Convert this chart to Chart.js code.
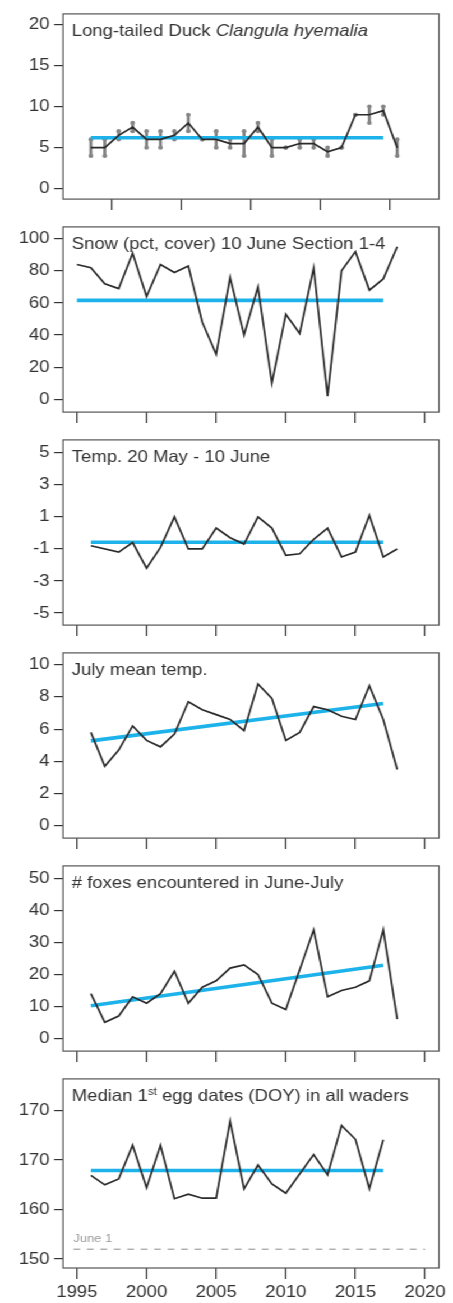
<!DOCTYPE html>
<html>
<head>
<meta charset="utf-8">
<script src="https://cdn.jsdelivr.net/npm/chart.js@4"></script>
<style>
  html, body { margin: 0; padding: 0; background: #fff; }
  #fig { position: absolute; left: 0; top: 0; width: 404px; height: 1303px;
         transform: scaleX(1.1213); transform-origin: 0 0; }
  .panel { position: absolute; left: 0; width: 404px; }
</style>
</head>
<body>
<div id="fig"></div>
<script>
// ---- data ----
const years = [1996, 1997, 1998, 1999, 2000, 2001, 2002, 2003, 2004, 2005, 2006, 2007,
               2008, 2009, 2010, 2011, 2012, 2013, 2014, 2015, 2016, 2017, 2018];
const snowYears = [1995, 1996, 1997, 1998, 1999, 2000, 2001, 2002, 2003, 2004, 2005, 2006,
                   2007, 2008, 2009, 2010, 2011, 2012, 2013, 2014, 2015, 2016, 2017, 2018];

const duckMedian = [5, 5, 6.5, 7.5, 6, 6, 6.5, 8, 6, 6, 5.5, 5.5, 7.5, 5, 5, 5.5, 5.5, 4.5, 5, 9, 9, 9.5, 5];
const duckLow    = [4, 4, 6, 7, 5, 5, 6, 7, 6, 5, 5, 4, 7, 4, 5, 5, 5, 4, 5, 9, 8, 9, 4];
const duckHigh   = [6, 6, 7, 8, 7, 7, 7, 9, 6, 7, 6, 7, 8, 6, 5, 6, 6, 5, 5, 9, 10, 10, 6];

const snowCover = [84, 82, 72, 69, 91, 64, 84, 79, 83, 48, 28, 76, 40, 70, 10, 53, 41, 82, 2, 80, 92, 68, 75, 95];

const tempMayJune = [-0.8, null, -1.2, -0.6, -2.2, -0.9, 1.0, -1.0, -1.0, 0.3, -0.3, -0.7,
                     1.0, 0.3, -1.4, -1.3, -0.4, 0.3, -1.5, -1.2, 1.1, -1.5, -1.0];

const julyTemp = [5.8, 3.7, 4.7, 6.2, 5.3, 4.9, 5.7, 7.7, 7.2, 6.9, 6.6, 5.9,
                  8.8, 7.9, 5.3, 5.8, 7.4, 7.2, 6.8, 6.6, 8.7, 6.6, 3.5];

const foxes = [14, 5, 7, 13, 11, 14, 21, 11, 16, 18, 22, 23, 20, 11, 9, null, 34, 13, 15, 16, 18, 34, 6];

const eggDate = [166.9, 165.0, 166.2, 173.0, 164.4, 173.0, 162.2, 163.1, 162.3, 162.3, 177.9, 164.2,
                 169.0, 165.2, 163.3, null, 171.1, 167.0, 177.0, 174.2, 164.2, 174.1, null];

// fitted means / trends (start and end year)
const fitYears = [1996, 2017];
const snowFitYears = [1995, 2017];
const duckMean = [6.2, 6.2];
const snowMean = [61.6, 61.6];
const tempMean = [-0.58, -0.58];
const julyTrend = [5.27, 7.59];
const foxTrend = [10.2, 22.9];
const eggMean = [167.9, 167.9];

// reference line: 1 June = day of year 152
const juneFirstYears = [1994.75, 2020];
const juneFirstDOY = [152, 152];

// ticks
const yearTicks = [1995, 2000, 2005, 2010, 2015, 2020];
const duckTicks = [0, 5, 10, 15, 20];
const snowTicks = [0, 20, 40, 60, 80, 100];
const tempTicks = [-5, -3, -1, 1, 3, 5];
const julyTicks = [0, 2, 4, 6, 8, 10];
const foxTicks = [0, 10, 20, 30, 40, 50];
const eggTicks = [150, 160, 170, 180];
const eggTickLabels = ['150', '160', '170', '170'];

// ---- styling ----
const FONT = '"Liberation Sans", Arial, Helvetica, sans-serif';
const FS = 16.5;
const TEXT = '#333333';
const BLUE = '#1db3ea';
const LINE = '#2a2a2a';
const W = 404;
const AXIS_W = 56.2;
const PAD_R = 12.5;
const PANEL_STEP = 213;
const FRAME_H = 193;

const pts = (xs, ys) => xs.map((x, i) => ({ x: x, y: ys[i] }));

const frameAndTitle = {
  id: 'frameAndTitle',
  afterDatasetsDraw(chart, args, opts) {
    const ctx = chart.ctx, a = chart.chartArea;
    ctx.save();
    ctx.strokeStyle = '#555555';
    ctx.lineWidth = 1.2;
    ctx.strokeRect(a.left, a.top, a.right - a.left, a.bottom - a.top);
    let x = a.left + 7.8;
    const y = a.top + 22.3;
    ctx.fillStyle = TEXT;
    ctx.textBaseline = 'alphabetic';
    ctx.textAlign = 'left';
    for (const p of opts.parts) {
      let size = FS, dy = 0;
      if (p.sup) { size = FS * 0.62; dy = -FS * 0.36; }
      ctx.font = (p.italic ? 'italic ' : '') + size + 'px ' + FONT;
      ctx.fillText(p.text, x, y + dy);
      x += ctx.measureText(p.text).width;
    }
    if (opts.note) {
      const n = opts.note;
      ctx.font = '11.5px ' + FONT;
      ctx.fillStyle = '#999999';
      ctx.fillText(n.text, chart.scales.x.getPixelForValue(n.x), chart.scales.y.getPixelForValue(n.y) - 7);
    }
    ctx.restore();
  }
};

function makePanel(idx, cfg) {
  const last = idx === 5;
  const div = document.createElement('div');
  div.className = 'panel';
  div.style.top = (idx * PANEL_STEP) + 'px';
  const h = last ? 1303 - idx * PANEL_STEP : PANEL_STEP;
  div.style.height = h + 'px';
  const canvas = document.createElement('canvas');
  div.appendChild(canvas);
  document.getElementById('fig').appendChild(div);
  const xAxisH = h - 10 - FRAME_H;

  new Chart(canvas, {
    type: 'line',
    data: { datasets: cfg.datasets },
    options: {
      responsive: true,
      maintainAspectRatio: false,
      animation: false,
      events: [],
      layout: { padding: { top: 10, right: PAD_R, left: 0, bottom: 0 } },
      plugins: {
        legend: { display: false },
        tooltip: { enabled: false },
        frameAndTitle: { parts: cfg.title, note: cfg.note || null }
      },
      scales: {
        x: {
          type: 'linear',
          min: 1994, max: 2021,
          offset: false,
          afterBuildTicks: s => { s.ticks = yearTicks.map(v => ({ value: v })); },
          afterFit: s => { s.height = xAxisH; },
          grid: { display: true, drawOnChartArea: false, drawTicks: true, tickLength: 11,
                  color: TEXT, lineWidth: 1.2 },
          border: { display: false },
          ticks: { display: last, autoSkip: false, maxRotation: 0, padding: 4,
                   color: TEXT, font: { family: FONT, size: FS },
                   callback: v => String(v) }
        },
        y: {
          type: 'linear',
          min: cfg.yMin, max: cfg.yMax,
          afterBuildTicks: s => { s.ticks = cfg.yTicks.map(v => ({ value: v })); },
          afterFit: s => { s.width = AXIS_W; },
          grid: { display: true, drawOnChartArea: false, drawTicks: true, tickLength: 8,
                  color: TEXT, lineWidth: 1.2 },
          border: { display: false },
          ticks: { autoSkip: false, padding: 4, color: TEXT, font: { family: FONT, size: FS },
                   callback: (v, i) => cfg.yLabels ? cfg.yLabels[i] : String(v) }
        }
      }
    },
    plugins: [frameAndTitle]
  });
}

function seriesLine(xs, ys) {
  return { type: 'line', data: pts(xs, ys), borderColor: LINE, borderWidth: 1.7,
           pointRadius: 0, spanGaps: true, tension: 0, order: 1 };
}
function fitLine(xs, ys) {
  return { type: 'line', data: pts(xs, ys), borderColor: BLUE, borderWidth: 3.6,
           pointRadius: 0, tension: 0, borderCapStyle: 'butt', order: 2 };
}

// Long-tailed Duck: median with min-max range
makePanel(0, {
  title: [{ text: 'Long-tailed Duck ' }, { text: 'Clangula hyemalia', italic: true }],
  yMin: -1.25, yMax: 21.25, yTicks: duckTicks,
  datasets: [
    { type: 'bar', data: years.map((x, i) => ({ x: x, y: [duckLow[i], duckHigh[i]] })),
      backgroundColor: '#7d7d7d', barThickness: 2, grouped: false, order: 4 },
    { type: 'line', data: years.flatMap((x, i) => [{ x: x, y: duckLow[i] }, { x: x, y: duckHigh[i] }]),
      showLine: false, pointRadius: 2.1, pointBorderWidth: 0, pointBackgroundColor: '#858585', order: 3 },
    fitLine(fitYears, duckMean),
    seriesLine(years, duckMedian)
  ]
});

makePanel(1, {
  title: [{ text: 'Snow (pct, cover) 10 June Section 1-4' }],
  yMin: -8, yMax: 107.4, yTicks: snowTicks,
  datasets: [fitLine(snowFitYears, snowMean), seriesLine(snowYears, snowCover)]
});

makePanel(2, {
  title: [{ text: 'Temp. 20 May - 10 June' }],
  yMin: -5.75, yMax: 5.8, yTicks: tempTicks,
  datasets: [fitLine(fitYears, tempMean), seriesLine(years, tempMayJune)]
});

makePanel(3, {
  title: [{ text: 'July mean temp.' }],
  yMin: -0.76, yMax: 10.73, yTicks: julyTicks,
  datasets: [fitLine(fitYears, julyTrend), seriesLine(years, julyTemp)]
});

makePanel(4, {
  title: [{ text: '# foxes encountered in June-July' }],
  yMin: -4, yMax: 54, yTicks: foxTicks,
  datasets: [fitLine(fitYears, foxTrend), seriesLine(years, foxes)]
});

makePanel(5, {
  title: [{ text: 'Median 1' }, { text: 'st', sup: true }, { text: ' egg dates (DOY) in all waders' }],
  yMin: 148.2, yMax: 186.4, yTicks: eggTicks, yLabels: eggTickLabels,
  note: { text: 'June 1', x: juneFirstYears[0], y: juneFirstDOY[0] },
  datasets: [
    { type: 'line', data: pts(juneFirstYears, juneFirstDOY), borderColor: '#8c8c8c', borderWidth: 1,
      borderDash: [6, 6], pointRadius: 0, order: 3 },
    fitLine(fitYears, eggMean),
    seriesLine(years, eggDate)
  ]
});
</script>
</body>
</html>
